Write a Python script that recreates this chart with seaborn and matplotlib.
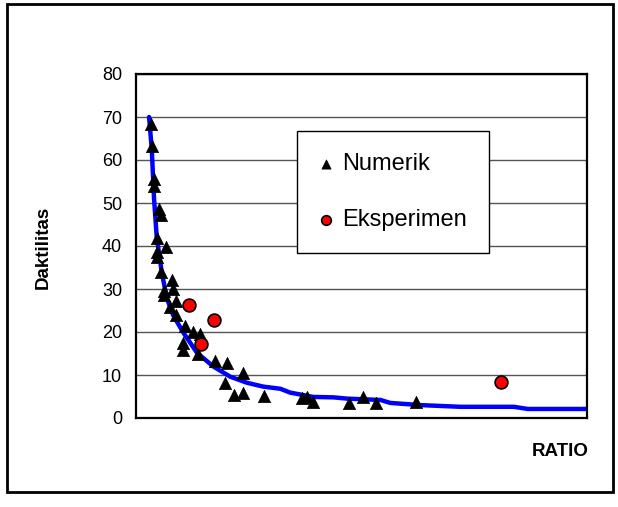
import matplotlib
matplotlib.use("Agg")
import matplotlib.pyplot as plt
import seaborn as sns
import pandas as pd
from matplotlib.patches import Rectangle

# ---- data (x is the unlabelled RATIO axis) ----
curve_x = [2.9, 3.5, 4.0, 4.6, 5.7, 6.8, 8.2, 10.4, 13.5, 17.1, 20.9, 24.6, 28.2,
           32.0, 34.2, 39.3, 43.8, 46.9, 54.2, 56.4, 63.1, 72.0, 83.8, 86.9, 100.0]
curve_y = [70.0, 62.5, 51.0, 42.0, 34.0, 28.0, 24.0, 20.0, 15.2, 12.0, 9.6, 8.2, 7.3,
           6.8, 5.9, 4.9, 4.8, 4.5, 4.2, 3.5, 3.0, 2.6, 2.6, 2.1, 2.1]

numerik_x = [3.3, 3.6, 4.0, 4.0, 5.0, 5.5, 4.6, 6.7, 4.7, 4.7, 5.5, 7.9, 8.2, 6.1, 6.2,
             8.9, 7.6, 8.9, 10.9, 12.6, 14.1, 10.5, 10.4, 13.8, 17.6, 20.2, 23.7, 19.8,
             21.8, 23.7, 28.4, 36.8, 37.9, 39.2, 47.2, 50.4, 53.3, 62.0]
numerik_y = [68.3, 63.2, 55.5, 54.0, 48.5, 47.3, 41.8, 39.8, 38.6, 37.5, 34.0, 32.0, 30.0,
             29.6, 28.5, 27.1, 25.7, 23.9, 21.4, 19.9, 19.5, 17.5, 15.9, 14.8, 13.2, 12.8,
             10.5, 8.2, 5.4, 5.8, 5.2, 4.6, 5.0, 3.8, 3.4, 4.9, 3.4, 3.8]

eksperimen_x = [11.8, 17.4, 14.4, 80.9]
eksperimen_y = [26.3, 22.8, 17.3, 8.3]

y_ticks = [0, 10, 20, 30, 40, 50, 60, 70, 80]
x_label = "RATIO"
y_label = "Daktilitas"
series_names = ["Numerik", "Eksperimen"]

# ---- style ----
sns.set_style("white")
plt.rcParams["font.family"] = ["Liberation Sans", "DejaVu Sans"]
plt.rcParams["text.color"] = "black"
plt.rcParams["ytick.color"] = "black"
plt.rcParams["ytick.labelcolor"] = "black"

W, H = 618, 507
fig = plt.figure(figsize=(W / 100, H / 100), dpi=100)
ax = fig.add_axes([136 / W, (H - 418) / H, (587 - 136) / W, (418 - 74) / H])

df_curve = pd.DataFrame({"x": curve_x, "y": curve_y})
df_num = pd.DataFrame({"x": numerik_x, "y": numerik_y})
df_eks = pd.DataFrame({"x": eksperimen_x, "y": eksperimen_y})

sns.lineplot(data=df_curve, x="x", y="y", ax=ax, color="#0000FF", linewidth=3.2,
             sort=False, legend=False, zorder=2)
sns.scatterplot(data=df_num, x="x", y="y", ax=ax, marker="^", s=78, color="black",
                edgecolor="black", linewidth=0.5, label=series_names[0], zorder=3)
sns.scatterplot(data=df_eks, x="x", y="y", ax=ax, marker="o", s=85, color="#FF0000",
                edgecolor="black", linewidth=1.2, label=series_names[1], zorder=4)

ax.set_xlim(0, 100)
ax.set_ylim(0, 80)
ax.set_yticks(y_ticks)
ax.set_yticklabels([str(v) for v in y_ticks], fontsize=13, color="black")
ax.set_xticks([])
ax.tick_params(axis="y", direction="out", length=5, width=1, color="#555555", pad=5)
ax.yaxis.grid(True, color="#555555", linewidth=1.0)
ax.set_axisbelow(True)
for s in ax.spines.values():
    s.set_color("black")
    s.set_linewidth(1.6)
ax.set_xlabel("")
ax.set_ylabel("")

fig.text(43 / W, 1 - 247 / H, y_label, rotation=90, fontsize=13.5, fontweight="bold",
         ha="center", va="center", color="black")
fig.text(560 / W, 1 - 452 / H, x_label, fontsize=13.5, fontweight="bold",
         ha="center", va="center", color="black")

leg = ax.legend(loc="upper left", bbox_to_anchor=((297 - 136) / 451, (418 - 131) / 344),
                frameon=True, fancybox=False, shadow=False, fontsize=17,
                handlelength=0.6, handletextpad=0.4, borderpad=0.93, labelspacing=1.43,
                borderaxespad=0.0, markerscale=0.75)
leg.get_frame().set_edgecolor("black")
leg.get_frame().set_linewidth(1.0)
leg.get_frame().set_facecolor("white")
leg.get_frame().set_alpha(1.0)
for t in leg.get_texts():
    t.set_color("black")

fig.patches.append(Rectangle((7 / W, (H - 492) / H), 606 / W, 488 / H,
                             transform=fig.transFigure, fill=False,
                             edgecolor="black", linewidth=2.0))

fig.savefig("out.png", dpi=100)
